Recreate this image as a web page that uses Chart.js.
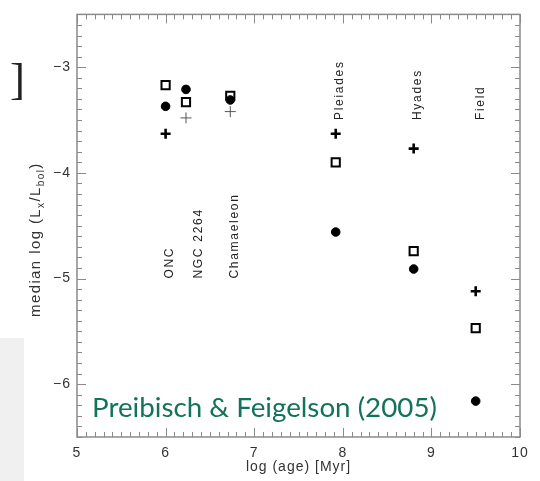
<!DOCTYPE html>
<html>
<head>
<meta charset="utf-8">
<script src="https://cdn.jsdelivr.net/npm/chart.js@4/dist/chart.umd.min.js"></script>
<style>
  html, body { margin: 0; padding: 0; background: #ffffff; }
  #wrap { width: 540px; height: 481px; position: relative; }
</style>
</head>
<body>
<div id="wrap"><canvas id="c" width="540" height="481"></canvas></div>
<script>
// Cluster names and log(age) of each group
const clusters = ['ONC', 'NGC 2264', 'Chamaeleon', 'Pleiades', 'Hyades', 'Field'];
const logAge   = [6.00, 6.23, 6.73, 7.92, 8.80, 9.50];

// median log(Lx/Lbol) for the three samples (squares, dots, crosses)
const squareVals = [-3.17, -3.33, -3.27, -3.90, -4.74, -5.47];
const dotVals    = [-3.37, -3.21, -3.31, -4.56, -4.91, -6.16];
const crossVals  = [-3.63, -3.48, -3.42, -3.63, -3.77, -5.12];
// crosses drawn with a thin pen
const thinCross  = [1, 2];

// where each cluster name starts (data units)
const nameAnchorX = [6.08, 6.41, 6.82, 8.00, 8.88, 9.59];
const nameAnchorY = [-5.0, -5.0, -5.0, -3.5, -3.5, -3.5];

// axis tick values
const xTicks = [5, 6, 7, 8, 9, 10];
const yTicks = [-6, -5, -4, -3];

const toXY = vals => logAge.map((a, i) => ({ x: a, y: vals[i] }));
const minus = v => (v < 0 ? '\u2212' + Math.abs(v) : String(v));

const AXIS_GRAY = '#8a8a8a';

// page furniture behind the plot
const backdrop = {
  id: 'backdrop',
  beforeDraw(chart) {
    const ctx = chart.ctx;
    ctx.save();
    ctx.fillStyle = '#f0f0f0';
    ctx.fillRect(0, 338, 24, 143);
    ctx.fillStyle = '#222222';
    ctx.font = '45px "Liberation Serif"';
    ctx.textBaseline = 'alphabetic';
    ctx.fillText(']', 10, 94);
    ctx.restore();
    ctx.letterSpacing = '1px';
  }
};

// box frame with inward major/minor ticks
const frame = {
  id: 'frame',
  beforeDatasetsDraw(chart) {
    const { ctx, chartArea: a, scales: { x, y } } = chart;
    ctx.save();
    ctx.strokeStyle = AXIS_GRAY;
    ctx.lineWidth = 1.5;
    ctx.strokeRect(a.left, a.top, a.right - a.left, a.bottom - a.top);
    ctx.lineWidth = 1;
    ctx.beginPath();
    for (let k = 50; k <= 100; k++) {
      const v = k / 10;
      const px = Math.round(x.getPixelForValue(v)) + 0.5;
      const len = k % 10 === 0 ? 9 : 5;
      ctx.moveTo(px, a.bottom); ctx.lineTo(px, a.bottom - len);
      ctx.moveTo(px, a.top); ctx.lineTo(px, a.top + len);
    }
    for (let k = -65; k <= -25; k++) {
      const v = k / 10;
      const py = Math.round(y.getPixelForValue(v)) + 0.5;
      const len = k % 10 === 0 ? 9 : 5;
      ctx.moveTo(a.left, py); ctx.lineTo(a.left + len, py);
      ctx.moveTo(a.right, py); ctx.lineTo(a.right - len, py);
    }
    ctx.stroke();
    ctx.restore();
  }
};

// vertical cluster names, y-axis title and the citation
const annotations = {
  id: 'annotations',
  afterDatasetsDraw(chart) {
    const { ctx, scales: { x, y } } = chart;
    ctx.save();
    ctx.fillStyle = '#222';
    ctx.font = '12px "Liberation Sans"';
    ctx.letterSpacing = '1.7px';
    ctx.textAlign = 'left';
    ctx.textBaseline = 'alphabetic';
    clusters.forEach((name, i) => {
      ctx.save();
      ctx.translate(x.getPixelForValue(nameAnchorX[i]), y.getPixelForValue(nameAnchorY[i]));
      ctx.rotate(-Math.PI / 2);
      ctx.fillText(name, 0, 0);
      ctx.restore();
    });
    ctx.restore();

    // y-axis title with subscripts
    ctx.save();
    ctx.fillStyle = '#333';
    ctx.letterSpacing = '1.4px';
    ctx.translate(39.5, 317);
    ctx.rotate(-Math.PI / 2);
    ctx.textAlign = 'left';
    ctx.textBaseline = 'alphabetic';
    const runs = [
      ['median log (L', 15, 0],
      ['x', 10, 4],
      ['/L', 15, 0],
      ['bol', 10, 4],
      [')', 15, 0]
    ];
    let cx = 0;
    runs.forEach(([t, size, dy]) => {
      ctx.font = size + 'px "Liberation Sans"';
      ctx.fillText(t, cx, dy);
      cx += ctx.measureText(t).width;
    });
    ctx.restore();

    // citation
    ctx.save();
    ctx.letterSpacing = '0px';
    const cite = 'Preibisch & Feigelson (2005)';
    ctx.font = '26px Lato';
    const w = ctx.measureText(cite).width;
    const size = 26 * 345 / w;
    ctx.font = size.toFixed(2) + 'px Lato';
    ctx.fillStyle = '#13735a';
    ctx.textBaseline = 'alphabetic';
    ctx.fillText(cite, 92, 417);
    ctx.restore();
  }
};

new Chart(document.getElementById('c'), {
  type: 'scatter',
  data: {
    datasets: [
      {
        label: 'squares',
        data: toXY(squareVals),
        pointStyle: 'rect',
        pointRadius: 5.8,
        borderWidth: 2,
        borderColor: '#000',
        backgroundColor: 'rgba(0,0,0,0)'
      },
      {
        label: 'dots',
        data: toXY(dotVals),
        pointStyle: 'circle',
        pointRadius: 4.3,
        borderWidth: 1,
        borderColor: '#000',
        backgroundColor: '#000'
      },
      {
        label: 'crosses',
        data: toXY(crossVals),
        pointStyle: 'cross',
        pointRadius: ctx => (thinCross.includes(ctx.dataIndex) ? 5.5 : 5),
        borderWidth: ctx => (thinCross.includes(ctx.dataIndex) ? 1 : 2.6),
        borderColor: ctx => (thinCross.includes(ctx.dataIndex) ? '#555' : '#000'),
        backgroundColor: '#000'
      }
    ]
  },
  options: {
    responsive: false,
    animation: false,
    events: [],
    clip: false,
    layout: { padding: { top: 10, right: 20, left: 0, bottom: 0 } },
    plugins: { legend: { display: false }, tooltip: { enabled: false } },
    scales: {
      x: {
        type: 'linear',
        position: 'bottom',
        min: 5, max: 10,
        grid: { display: false, drawTicks: false },
        border: { display: false },
        afterBuildTicks: s => { s.ticks = xTicks.map(v => ({ value: v })); },
        afterFit: s => { s.height = 44; },
        ticks: {
          color: '#333',
          font: { family: 'Liberation Sans', size: 14 },
          padding: 8,
          maxRotation: 0,
          autoSkip: false,
          callback: v => minus(v)
        },
        title: {
          display: true,
          text: 'log (age) [Myr]',
          color: '#333',
          font: { family: 'Liberation Sans', size: 14 },
          padding: { top: 0, bottom: 5 }
        }
      },
      y: {
        type: 'linear',
        position: 'left',
        min: -6.5, max: -2.5,
        grid: { display: false, drawTicks: false },
        border: { display: false },
        afterBuildTicks: s => { s.ticks = yTicks.map(v => ({ value: v })); },
        afterFit: s => { s.width = 77; },
        ticks: {
          color: '#333',
          font: { family: 'Liberation Sans', size: 14 },
          padding: 6,
          autoSkip: false,
          callback: v => minus(v)
        }
      }
    }
  },
  plugins: [backdrop, frame, annotations]
});
</script>
</body>
</html>
